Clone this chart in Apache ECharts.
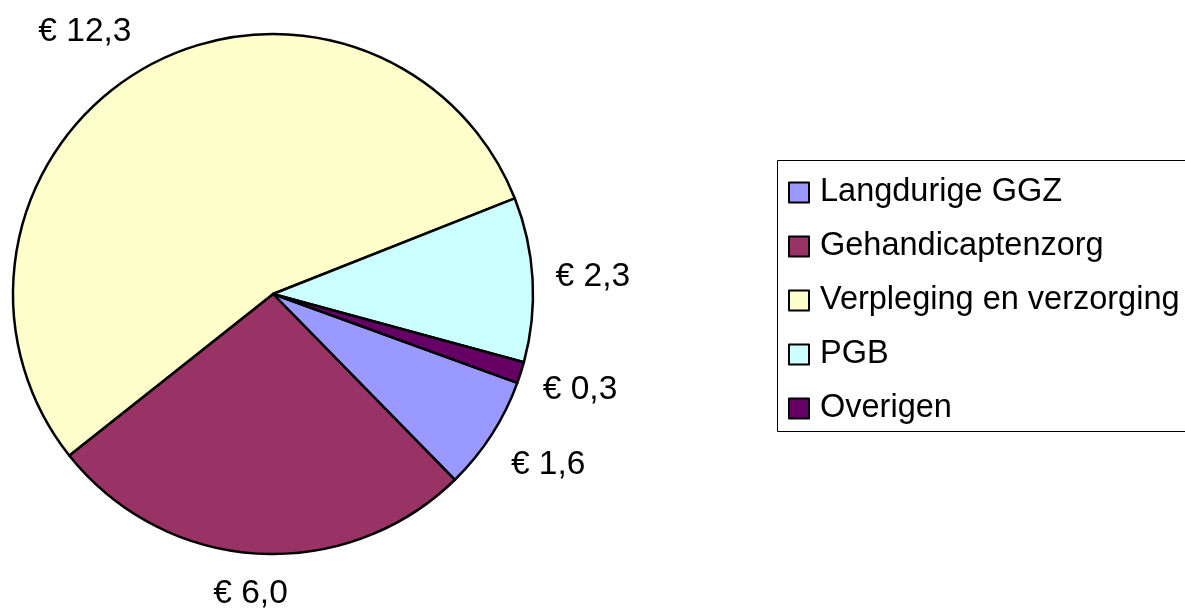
<!DOCTYPE html>
<html>
<head>
<meta charset="utf-8">
<script src="https://cdn.jsdelivr.net/npm/echarts@6/dist/echarts.min.js"></script>
<style>
  html, body { margin: 0; padding: 0; background: #fff; }
  #chart { width: 1185px; height: 608px; }
</style>
</head>
<body>
<div id="chart"></div>
<script>
// data (x miljard euro)
const categories = ['Langdurige GGZ', 'Gehandicaptenzorg', 'Verpleging en verzorging', 'PGB', 'Overigen'];
const values = [1.6, 6.0, 12.3, 2.3, 0.3];
const colors = ['#9999FF', '#993366', '#FFFFCC', '#CCFFFF', '#660066'];

const fontFamily = '"Liberation Sans", Arial, sans-serif';
const center = [273, 294];
const radius = 260;
const labelGap = 23; // afstand label tot rand van de taart

const chart = echarts.init(document.getElementById('chart'));

const option = {
  animation: false,
  // kader van de legenda loopt door tot buiten de rechterrand
  graphic: [
    {
      type: 'rect',
      shape: { x: 777.5, y: 160.5, width: 430, height: 271 },
      style: { fill: 'none', stroke: '#000', lineWidth: 1 },
      silent: true
    }
  ],
  legend: {
    orient: 'vertical',
    left: 777,
    top: 164,
    padding: [12, 0, 12, 11],
    itemGap: 21,
    itemWidth: 20,
    itemHeight: 20,
    icon: 'rect',
    itemStyle: { borderColor: '#000', borderWidth: 2 },
    textStyle: { fontSize: 32.5, color: '#000', fontFamily: fontFamily, padding: [0, 0, 0, 6] },
    selectedMode: false,
    data: categories
  },
  series: [
    {
      type: 'pie',
      center: center,
      radius: radius,
      startAngle: -20,
      clockwise: true,
      avoidLabelOverlap: false,
      emphasis: { disabled: true },
      itemStyle: { borderColor: '#000', borderWidth: 2.5 },
      label: {
        show: true,
        position: 'outside',
        fontSize: 33.5,
        color: '#000',
        fontFamily: fontFamily,
        formatter: function (p) {
          return '€ ' + p.value.toFixed(1).replace('.', ',');
        }
      },
      // lijn onzichtbaar, alleen nodig voor de positie van het label
      labelLine: { show: true, length: 10, length2: 0, lineStyle: { opacity: 0 } },
      labelLayout: function (params) {
        const pts = params.labelLinePoints;
        if (!pts) return {};
        const dx = pts[0][0] - center[0];
        const dy = pts[0][1] - center[1];
        const len = Math.hypot(dx, dy);
        const ux = dx / len, uy = dy / len;
        const px = center[0] + ux * (radius + labelGap);
        const py = center[1] + uy * (radius + labelGap);
        const gx = Math.max(-1, Math.min(1, 2 * ux));
        const gy = Math.max(-1, Math.min(1, 2 * uy));
        const r = params.labelRect;
        return {
          x: px + gx * r.width / 2,
          y: py + gy * r.height / 2,
          align: 'center',
          verticalAlign: 'middle'
        };
      },
      data: categories.map(function (name, i) {
        return { name: name, value: values[i], itemStyle: { color: colors[i] } };
      })
    }
  ]
};

chart.setOption(option);
</script>
</body>
</html>
